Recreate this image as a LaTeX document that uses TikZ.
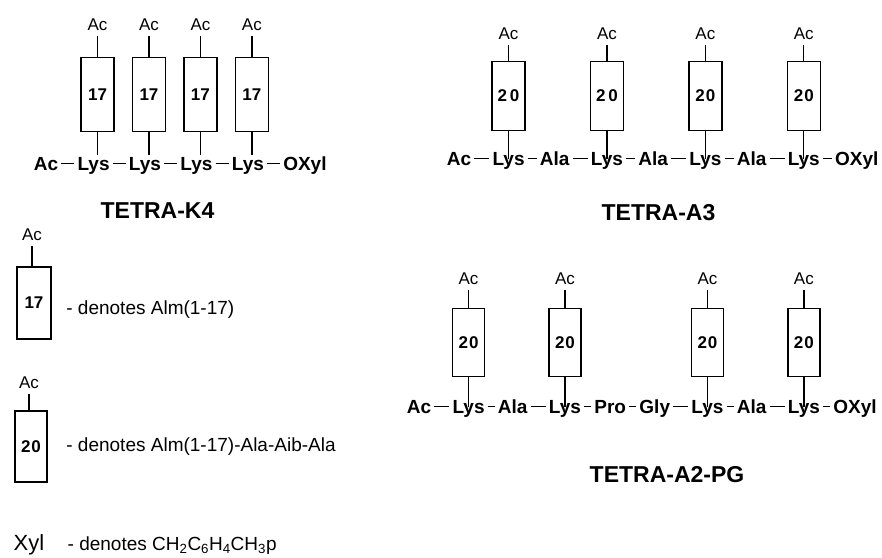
\documentclass[tikz,border=0pt]{standalone}
\usepackage{fontspec}
\setmainfont{Liberation Sans}
\usetikzlibrary{positioning}

\newcommand{\fsz}[1]{\fontsize{#1}{#1}\selectfont}

\begin{document}
\begin{tikzpicture}[x=1pt, y=-1pt, node distance=18pt, line width=1.4pt,
    res/.style={font=\fsz{19}\bfseries, inner sep=0pt, text height=14pt, text depth=1pt},
    seg/.style={draw, minimum width=33pt, minimum height=72pt, inner sep=0pt, font=\fsz{17}\bfseries},
    aclab/.style={font=\fsz{17}, inner sep=0pt, text height=12.5pt, text depth=0pt},
    heading/.style={font=\fsz{23}\bfseries, inner sep=0pt, anchor=base},
    note/.style={font=\fsz{19}, inner sep=0pt, text height=14pt, text depth=4pt},
    bond/.style={shorten <=2.5pt, shorten >=2.5pt},
    stem/.style={shorten <=5pt}]
  \useasboundingbox (0,0) rectangle (882,557);

  % TETRA-K4
  \node[res] (k4ac) at (46,163.5) {Ac};
  \node[res, right=of k4ac] (k4l1) {Lys};
  \node[res, right=of k4l1] (k4l2) {Lys};
  \node[res, right=of k4l2] (k4l3) {Lys};
  \node[res, right=of k4l3] (k4l4) {Lys};
  \node[res, right=of k4l4] (k4end) {OXyl};
  \path[draw, bond] (k4ac) edge (k4l1) (k4l1) edge (k4l2) (k4l2) edge (k4l3)
    (k4l3) edge (k4l4) (k4l4) edge (k4end);

  \node[seg, minimum height=74pt, above=23pt of k4l1, xshift=4pt] (k4b1) {17};
  \node[seg, minimum height=74pt, above=23pt of k4l2, xshift=4pt] (k4b2) {17};
  \node[seg, minimum height=74pt, above=23pt of k4l3, xshift=4pt] (k4b3) {17};
  \node[seg, minimum height=74pt, above=23pt of k4l4, xshift=4pt] (k4b4) {17};
  \node[aclab, above=26pt of k4b1] (k4a1) {Ac};
  \node[aclab, above=26pt of k4b2] (k4a2) {Ac};
  \node[aclab, above=26pt of k4b3] (k4a3) {Ac};
  \node[aclab, above=26pt of k4b4] (k4a4) {Ac};
  \draw[stem] (k4a1) -- (k4b1);
  \draw[stem] (k4a2) -- (k4b2);
  \draw[stem] (k4a3) -- (k4b3);
  \draw[stem] (k4a4) -- (k4b4);
  \draw (k4b1.south) -- (k4b1.south |- k4l1.north);
  \draw (k4b2.south) -- (k4b2.south |- k4l2.north);
  \draw (k4b3.south) -- (k4b3.south |- k4l3.north);
  \draw (k4b4.south) -- (k4b4.south |- k4l4.north);
  \node[heading] (k4name) at (157.5,218) {TETRA-K4};

  % TETRA-A3
  \node[res] (a3ac) at (459,158.5) {Ac};
  \node[res, right=20pt of a3ac] (a3l1) {Lys};
  \node[res, right=14pt of a3l1] (a3x1) {Ala};
  \node[res, right=20pt of a3x1] (a3l2) {Lys};
  \node[res, right=14pt of a3l2] (a3x2) {Ala};
  \node[res, right=20pt of a3x2] (a3l3) {Lys};
  \node[res, right=14pt of a3l3] (a3x3) {Ala};
  \node[res, right=20pt of a3x3] (a3l4) {Lys};
  \node[res, right=14pt of a3l4] (a3end) {OXyl};
  \path[draw, bond] (a3ac) edge (a3l1) (a3l1) edge (a3x1) (a3x1) edge (a3l2)
    (a3l2) edge (a3x2) (a3x2) edge (a3l3) (a3l3) edge (a3x3) (a3x3) edge (a3l4)
    (a3l4) edge (a3end);

  \node[seg, minimum height=69pt, above=19pt of a3l1] (a3b1) {2\,0};
  \node[seg, minimum height=69pt, above=19pt of a3l2] (a3b2) {2\,0};
  \node[seg, minimum height=69pt, above=19pt of a3l3] (a3b3) {2\kern1pt0};
  \node[seg, minimum height=69pt, above=19pt of a3l4] (a3b4) {2\kern1pt0};
  \node[aclab, above=21pt of a3b1] (a3a1) {Ac};
  \node[aclab, above=21pt of a3b2] (a3a2) {Ac};
  \node[aclab, above=21pt of a3b3] (a3a3) {Ac};
  \node[aclab, above=21pt of a3b4] (a3a4) {Ac};
  \draw[stem] (a3a1) -- (a3b1);
  \draw[stem] (a3a2) -- (a3b2);
  \draw[stem] (a3a3) -- (a3b3);
  \draw[stem] (a3a4) -- (a3b4);
  \draw (a3b1.south) -- (a3b1.south |- a3l1.center);
  \draw (a3b2.south) -- (a3b2.south |- a3l2.center);
  \draw (a3b3.south) -- (a3b3.south |- a3l3.center);
  \draw (a3b4.south) -- (a3b4.south |- a3l4.center);
  \node[heading] (a3name) at (658.5,220) {TETRA-A3};

  % TETRA-A2-PG
  \node[res] (pgac) at (419,406.5) {Ac};
  \node[res, right=20pt of pgac] (pgl1) {Lys};
  \node[res, right=12pt of pgl1] (pgx1) {Ala};
  \node[res, right=20pt of pgx1] (pgl2) {Lys};
  \node[res, right=12pt of pgl2] (pgpro) {Pro};
  \node[res, right=12pt of pgpro] (pggly) {Gly};
  \node[res, right=20pt of pggly] (pgl3) {Lys};
  \node[res, right=12pt of pgl3] (pgx2) {Ala};
  \node[res, right=20pt of pgx2] (pgl4) {Lys};
  \node[res, right=12pt of pgl4] (pgend) {OXyl};
  \path[draw, bond] (pgac) edge (pgl1) (pgl1) edge (pgx1) (pgx1) edge (pgl2)
    (pgl2) edge (pgpro) (pgpro) edge (pggly) (pggly) edge (pgl3) (pgl3) edge (pgx2)
    (pgx2) edge (pgl4) (pgl4) edge (pgend);

  \node[seg, minimum height=68pt, minimum width=32pt, above=21pt of pgl1] (pgb1) {2\kern1pt0};
  \node[seg, minimum height=68pt, minimum width=32pt, above=21pt of pgl2] (pgb2) {2\kern1pt0};
  \node[seg, minimum height=68pt, minimum width=32pt, above=21pt of pgl3] (pgb3) {2\kern1pt0};
  \node[seg, minimum height=68pt, minimum width=32pt, above=21pt of pgl4] (pgb4) {2\kern1pt0};
  \node[aclab, above=23pt of pgb1] (pga1) {Ac};
  \node[aclab, above=23pt of pgb2] (pga2) {Ac};
  \node[aclab, above=23pt of pgb3] (pga3) {Ac};
  \node[aclab, above=23pt of pgb4] (pga4) {Ac};
  \draw[stem] (pga1) -- (pgb1);
  \draw[stem] (pga2) -- (pgb2);
  \draw[stem] (pga3) -- (pgb3);
  \draw[stem] (pga4) -- (pgb4);
  \draw (pgb1.south) -- (pgb1.south |- pgl1.center);
  \draw (pgb2.south) -- (pgb2.south |- pgl2.center);
  \draw (pgb3.south) -- (pgb3.south |- pgl3.center);
  \draw (pgb4.south) -- (pgb4.south |- pgl4.center);
  \node[heading] (pgname) at (667,482) {TETRA-A2-PG};

  % legend
  \node[seg, minimum width=34pt] (leg17) at (34,303) {17};
  \node[aclab, above=25pt of leg17, xshift=-2pt] (legac1) {Ac};
  \draw[stem] (legac1) -- (legac1 |- leg17.north);
  \node[note, right=14pt of leg17, yshift=-6pt] (legtxt1) {- denotes Alm(1-17)};

  \node[seg, minimum width=32pt, minimum height=71pt] (leg20) at (31,446.5) {2\kern1pt0};
  \node[aclab, above=21pt of leg20, xshift=-2pt] (legac2) {Ac};
  \draw[stem] (legac2) -- (legac2 |- leg20.north);
  \node[note, right=18pt of leg20] (legtxt2) {- denotes Alm(1-17)-Ala-Aib-Ala};

  \node[font=\fsz{22}, inner sep=0pt, anchor=base west] (xyl) at (13,550) {Xyl};
  \node[font=\fsz{19}, inner sep=0pt, base right=22pt of xyl] (xyltxt)
    {- denotes CH\textsubscript{2}C\textsubscript{6}H\textsubscript{4}CH\textsubscript{3}p};
\end{tikzpicture}
\end{document}
